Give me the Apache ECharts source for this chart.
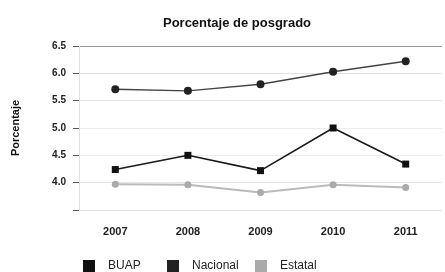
<!DOCTYPE html>
<html>
<head>
<meta charset="utf-8">
<script src="https://cdn.jsdelivr.net/npm/echarts@6/dist/echarts.min.js"></script>
<style>
  html, body { margin: 0; padding: 0; background: #fff; }
  #chart { width: 445px; height: 272px; }
</style>
</head>
<body>
<div id="chart"></div>
<script>
// years on the x axis
const years = ['2007', '2008', '2009', '2010', '2011']
// porcentaje de posgrado por serie
const buap = [4.24, 4.5, 4.22, 5.0, 4.34]
const nacional = [5.71, 5.68, 5.8, 6.03, 6.22]
const estatal = [3.97, 3.96, 3.82, 3.96, 3.91]

const font = 'Liberation Sans'
const myChart = echarts.init(document.getElementById('chart'))

// one legend per item so each sits where it does in the original
function legendAt(name, left) {
    return {
        data: [name],
        left: left,
        top: 255,
        icon: 'rect',
        itemWidth: 12,
        itemHeight: 12,
        textStyle: { fontFamily: font, fontSize: 12, color: '#222', padding: [0, 0, 0, 8] }
    }
}

const option = {
    animation: false,
    title: {
        text: 'Porcentaje de posgrado',
        left: 232,
        textAlign: 'center',
        top: 12,
        textStyle: { fontFamily: font, fontSize: 13, fontWeight: 'bold', color: '#111' }
    },
    legend: [
        legendAt('BUAP', 78),
        legendAt('Nacional', 162),
        legendAt('Estatal', 250)
    ],
    grid: {
        left: 79,
        right: 3,
        top: 46,
        bottom: 62
    },
    xAxis: {
        type: 'category',
        data: years,
        boundaryGap: true,
        axisLine: { show: false },
        axisTick: { show: false },
        axisLabel: { margin: 16, fontFamily: font, fontSize: 11, fontWeight: 'bold', color: '#222' }
    },
    yAxis: {
        type: 'value',
        min: 3.5,
        max: 6.5,
        interval: 0.5,
        name: 'Porcentaje',
        nameLocation: 'middle',
        nameGap: 58,
        nameTextStyle: { fontFamily: font, fontSize: 11, fontWeight: 'bold', color: '#111' },
        axisLine: { show: true, lineStyle: { color: '#e2e2e2' } },
        axisTick: { show: true, length: 6, lineStyle: { color: '#555' } },
        axisLabel: {
            margin: 13,
            fontFamily: font,
            fontSize: 10,
            fontWeight: 'bold',
            color: '#222',
            formatter: v => v === 3.5 ? '' : v.toFixed(1)
        },
        splitLine: {
            show: true,
            lineStyle: { color: ['#e2e2e2', '#e6e6e6', '#ececec', '#ececec', '#e6e6e6', '#e2e2e2', '#9a9a9a'] }
        }
    },
    series: [
        {
            name: 'BUAP',
            type: 'line',
            data: buap,
            color: '#111',
            symbol: 'rect',
            symbolSize: 7,
            lineStyle: { width: 1.6, color: '#1a1a1a' }
        },
        {
            name: 'Nacional',
            type: 'line',
            data: nacional,
            color: '#3a3a3a',
            symbol: 'circle',
            symbolSize: 8,
            itemStyle: { color: '#222' },
            lineStyle: { width: 1.4, color: '#444' }
        },
        {
            name: 'Estatal',
            type: 'line',
            data: estatal,
            color: '#aaa',
            symbol: 'circle',
            symbolSize: 7,
            itemStyle: { color: '#aaa' },
            lineStyle: { width: 2, color: '#bbb' }
        }
    ]
}

myChart.setOption(option)
</script>
</body>
</html>
